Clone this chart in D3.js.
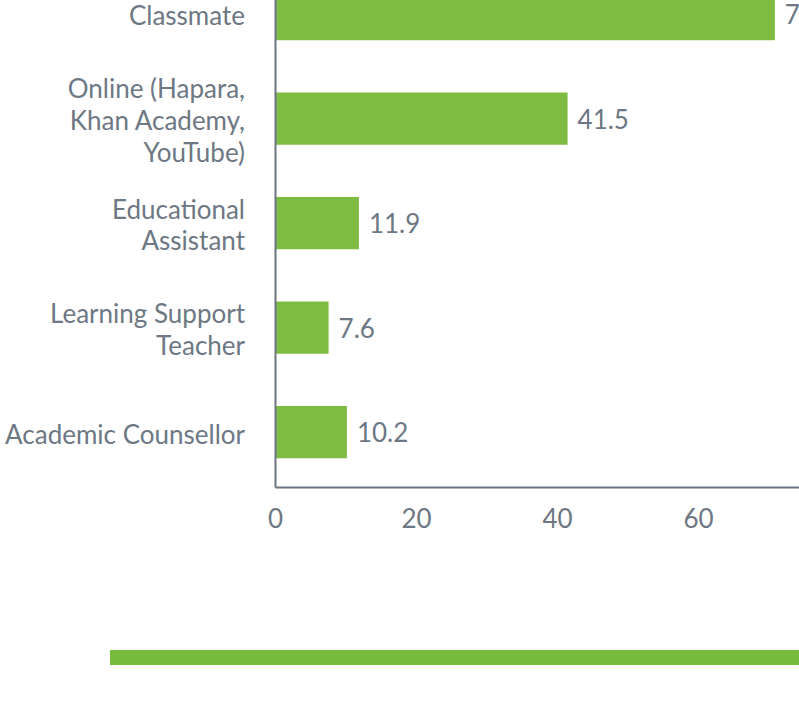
<!DOCTYPE html>
<html>
<head>
<meta charset="utf-8">
<script src="https://cdn.jsdelivr.net/npm/d3@7"></script>
<style>
  html, body { margin: 0; padding: 0; background: #fff; overflow: hidden; }
  svg { display: block; font-family: Lato, "Open Sans", sans-serif; }
  .axis text { fill: #6d7884; font-size: 26px; font-family: Lato, sans-serif; }
  .axis path { stroke: #6b7480; stroke-width: 2px; }
  .label { fill: #6d7884; font-size: 26px; }
</style>
</head>
<body>
<div id="chart"></div>
<script>
// the data
var categories = ["Classmate", "Online", "Educational Assistant", "Learning Support Teacher", "Academic Counsellor"];
var values = [70.9, 41.5, 11.9, 7.6, 10.2];
// tick labels as drawn (multi line)
var categoryLines = [
  ["Classmate"],
  ["Online (Hapara,", "Khan Academy,", "YouTube)"],
  ["Educational", "Assistant"],
  ["Learning Support", "Teacher"],
  ["Academic Counsellor"]
];
var xTicks = [0, 20, 40, 60];

// set the dimensions of the graph
var width = 799, height = 709;
var plotLeft = 275, plotTop = -40.75, plotBottom = 487, plotRight = 839;
var barColor = "#7dbb42";

var data = categories.map(function(c, i) {
  return {cat: c, value: values[i], lines: categoryLines[i]};
});

// set the ranges
var x = d3.scaleLinear().domain([0, 80]).range([plotLeft, plotRight]);
var y = d3.scaleBand()
    .domain(categories)
    .range([plotTop, plotBottom])
    .paddingInner(0.5)
    .paddingOuter(0.275);

var svg = d3.select("#chart").append("svg")
    .attr("width", width)
    .attr("height", height);

// bars
svg.selectAll(".bar")
    .data(data)
  .enter().append("rect")
    .attr("class", "bar")
    .attr("x", x(0))
    .attr("y", function(d) { return y(d.cat); })
    .attr("width", function(d) { return x(d.value) - x(0); })
    .attr("height", y.bandwidth())
    .attr("fill", barColor);

// value labels
svg.selectAll(".label")
    .data(data)
  .enter().append("text")
    .attr("class", "label")
    .attr("x", function(d) { return x(d.value) + 10; })
    .attr("y", function(d) { return y(d.cat) + y.bandwidth() / 2; })
    .attr("dy", "0.38em")
    .text(function(d) { return d.value; });

// x axis
svg.append("g")
    .attr("class", "axis")
    .attr("transform", "translate(0," + plotBottom + ")")
    .call(d3.axisBottom(x).tickValues(xTicks).tickSize(0).tickSizeOuter(0).tickPadding(23));

// y axis
var yAxis = svg.append("g")
    .attr("class", "axis")
    .attr("transform", "translate(" + plotLeft + ",0)")
    .call(d3.axisLeft(y).tickSize(0).tickSizeOuter(0).tickPadding(30).tickFormat(""));

// multi line category labels
yAxis.selectAll(".tick text").each(function(cat) {
  var lines = categoryLines[categories.indexOf(cat)];
  var t = d3.select(this).attr("dy", null);
  var lh = 32;
  var first = -((lines.length - 1) * lh) / 2;
  lines.forEach(function(line, i) {
    t.append("tspan")
      .attr("x", -30)
      .attr("y", first + i * lh + 2)
      .attr("dy", "0.36em")
      .text(line);
  });
});

// legend swatch at the bottom
svg.append("rect")
    .attr("x", 110)
    .attr("y", 650)
    .attr("width", width - 110)
    .attr("height", 15)
    .attr("fill", "#77bb3d");
</script>
</body>
</html>
